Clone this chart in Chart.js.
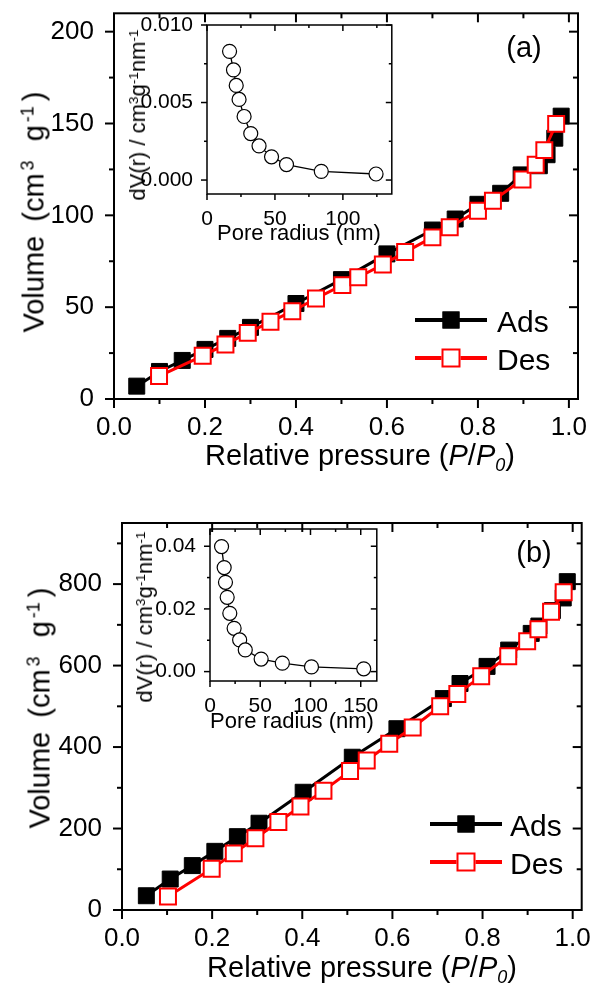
<!DOCTYPE html>
<html>
<head>
<meta charset="utf-8">
<script src="https://cdn.jsdelivr.net/npm/chart.js@4.4.1/dist/chart.umd.min.js"></script>
<style>
  html, body { margin: 0; padding: 0; background: #fff; }
  #page { position: relative; width: 595px; height: 991px; overflow: hidden;
          font-family: 'Liberation Sans', Arial, sans-serif; color: #000; }
  canvas { position: absolute; }
  .txt { position: absolute; white-space: nowrap; line-height: 1; }
  .ctr { transform: translate(-50%, -50%); }
  .rot { transform: translate(-50%, -50%) rotate(-90deg); }
  sup { font-size: 0.62em; position: relative; top: -0.55em; vertical-align: baseline; line-height: 0; }
  sub { font-size: 0.62em; position: relative; top: 0.35em; vertical-align: baseline; line-height: 0; }
  .vol sup { margin: 0 5px 0 3px; }
  .vol { word-spacing: 6px; }
  .legline { position: absolute; height: 4px; width: 72px; }
  .legmark { position: absolute; width: 15px; height: 15px; transform: translate(-50%, -50%); }
</style>
</head>
<body>
<div id="page">
  <canvas id="mainA" width="595" height="470" style="left:0;top:0"></canvas>
  <canvas id="insetA" width="300" height="230" style="left:100px;top:5px"></canvas>
  <canvas id="mainB" width="595" height="511" style="left:0;top:480px"></canvas>
  <canvas id="insetB" width="285" height="205" style="left:100px;top:509px"></canvas>

  <div class="txt rot vol" style="left:34px;top:212px;font-size:29px">Volume (cm<sup>3</sup> g<sup>-1</sup>)</div>
  <div class="txt ctr" style="left:360px;top:455px;font-size:29px">Relative pressure (<i>P</i>/<i>P</i><sub><i>0</i></sub>)</div>
  <div class="txt ctr" style="left:524px;top:47px;font-size:29px">(a)</div>
  <div class="txt rot" style="left:138px;top:115px;font-size:22px">dV(r) / cm<sup>3</sup>g<sup>-1</sup>nm<sup>-1</sup></div>
  <div class="txt ctr" style="left:299px;top:233px;font-size:22px">Pore radius (nm)</div>

  <div class="txt rot vol" style="left:40px;top:708px;font-size:29px">Volume (cm<sup>3</sup> g<sup>-1</sup>)</div>
  <div class="txt ctr" style="left:362px;top:967px;font-size:29px">Relative pressure (<i>P</i>/<i>P</i><sub><i>0</i></sub>)</div>
  <div class="txt ctr" style="left:534px;top:552px;font-size:29px">(b)</div>
  <div class="txt rot" style="left:145px;top:617px;font-size:22px">dV(r) / cm<sup>3</sup>g<sup>-1</sup>nm<sup>-1</sup></div>
  <div class="txt ctr" style="left:292px;top:721px;font-size:22px">Pore radius (nm)</div>

  <!-- legend (a) -->
  <div class="legline" style="left:415px;top:318px;background:#000"></div>
  <div class="legmark" style="left:451px;top:320px;background:#000;border:1px solid #000"></div>
  <div class="txt" style="left:497px;top:307px;font-size:30px">Ads</div>
  <div class="legline" style="left:415px;top:356px;background:#f00"></div>
  <div class="legmark" style="left:451px;top:358px;background:#fff;border:2px solid #f00"></div>
  <div class="txt" style="left:497px;top:345px;font-size:30px">Des</div>

  <!-- legend (b) -->
  <div class="legline" style="left:430px;top:822px;background:#000"></div>
  <div class="legmark" style="left:466px;top:824px;background:#000;border:1px solid #000"></div>
  <div class="txt" style="left:510px;top:811px;font-size:30px">Ads</div>
  <div class="legline" style="left:430px;top:860px;background:#f00"></div>
  <div class="legmark" style="left:466px;top:862px;background:#fff;border:2px solid #f00"></div>
  <div class="txt" style="left:510px;top:849px;font-size:30px">Des</div>
</div>

<script>
// ---- panel (a) isotherm ----
const adsA_P = [0.05, 0.10, 0.15, 0.20, 0.25, 0.30, 0.40, 0.50, 0.60, 0.70, 0.75, 0.80, 0.85, 0.895, 0.935, 0.952, 0.969, 0.983];
const adsA_V = [7, 15, 21, 27, 33, 39, 52, 65, 79, 92, 98, 106, 112, 122, 127, 133, 142, 154];
const desA_P = [0.099, 0.195, 0.245, 0.294, 0.344, 0.392, 0.444, 0.502, 0.537, 0.591, 0.64, 0.70, 0.738, 0.80, 0.833, 0.898, 0.927, 0.946, 0.972];
const desA_V = [12.5, 23.5, 29.7, 36, 42, 47.8, 54.7, 62, 66.3, 73.2, 80, 88, 93.5, 102.5, 108, 119.5, 127.5, 135.5, 149.8];

// ---- panel (a) inset: pore size distribution ----
const poreA_r = [16.6, 19.5, 21.5, 23.6, 27.3, 32.2, 38.3, 47.5, 58.5, 84.1, 124.4];
const poreA_dV = [0.0083, 0.0071, 0.0061, 0.0052, 0.0041, 0.0030, 0.0022, 0.0015, 0.0010, 0.00056, 0.00039];

// ---- panel (b) isotherm ----
const adsB_P = [0.054, 0.107, 0.156, 0.206, 0.256, 0.304, 0.402, 0.511, 0.61, 0.713, 0.75, 0.81, 0.858, 0.908, 0.925, 0.955, 0.979, 0.988];
const adsB_V = [35, 76, 109, 144, 180, 213, 289, 375, 445, 519, 556, 598, 638, 679, 697, 735, 766, 806];
const desB_P = [0.102, 0.199, 0.248, 0.296, 0.347, 0.396, 0.447, 0.506, 0.543, 0.593, 0.645, 0.706, 0.744, 0.797, 0.857, 0.899, 0.924, 0.952, 0.98];
const desB_V = [33, 101, 139, 176, 216, 254, 293, 341, 367, 408, 448, 500, 530, 574, 623, 660, 689, 732, 780];

// ---- panel (b) inset ----
const poreB_r = [11.5, 14.1, 15.4, 17.1, 19.7, 24, 29.5, 35.1, 50.9, 72, 101, 153];
const poreB_dV = [0.0399, 0.0332, 0.0285, 0.0237, 0.0186, 0.0138, 0.0101, 0.0069, 0.0040, 0.0027, 0.0015, 0.0009];

Chart.defaults.font.family = "'Liberation Sans', Arial, sans-serif";
Chart.defaults.color = '#000';
Chart.defaults.animation = false;

const toXY = (xs, ys) => xs.map((x, i) => ({ x, y: ys[i] }));

// box frame with major/minor ticks (outside on bottom/left, inside on top/right)
const frameTicks = {
  id: 'frameTicks',
  afterDraw(chart, args, opts) {
    const { ctx, chartArea: a, scales } = chart;
    ctx.save();
    ctx.strokeStyle = '#000';
    ctx.lineWidth = opts.width;
    ctx.strokeRect(a.left, a.top, a.right - a.left, a.bottom - a.top);
    const seg = (x1, y1, x2, y2) => { ctx.beginPath(); ctx.moveTo(x1, y1); ctx.lineTo(x2, y2); ctx.stroke(); };
    const marks = (scale, step) => {
      const out = scale.ticks.map(t => ({ v: t.value, len: opts.major }));
      for (let k = Math.ceil(scale.min / step - 1e-9); k * step <= scale.max + 1e-9; k++) {
        const v = k * step;
        if (!scale.ticks.some(t => Math.abs(t.value - v) < step / 10)) out.push({ v, len: opts.minor });
      }
      return out;
    };
    marks(scales.x, opts.xMinor).forEach(m => {
      const px = scales.x.getPixelForValue(m.v);
      seg(px, a.bottom, px, a.bottom + m.len);
      seg(px, a.top, px, a.top + m.len);
    });
    marks(scales.y, opts.yMinor).forEach(m => {
      const py = scales.y.getPixelForValue(m.v);
      seg(a.left, py, a.left - m.len, py);
      seg(a.right, py, a.right - m.len, py);
    });
    ctx.restore();
  }
};

function axis(min, max, step, digits, size, pad, fit, horizontal) {
  return {
    type: 'linear', min, max,
    grid: { display: false },
    border: { display: false },
    ticks: {
      stepSize: step, includeBounds: false, autoSkip: false, maxRotation: 0,
      padding: pad, font: { size }, color: '#000',
      callback: v => v.toFixed(digits)
    },
    afterFit(s) {
      if (horizontal) s.height = fit; else s.width = fit;
      s.paddingLeft = s.paddingRight = s.paddingTop = s.paddingBottom = 0;
    }
  };
}

function isotherm(id, ads, des, yMax, yStep, yMinor, box) {
  return new Chart(document.getElementById(id), {
    type: 'scatter',
    data: {
      datasets: [
        { label: 'Ads', data: ads, showLine: true, order: 1, clip: false,
          borderColor: '#000', borderWidth: 3,
          pointStyle: 'rect', pointRadius: 11.3, pointBorderWidth: 1,
          pointBackgroundColor: '#000', pointBorderColor: '#000' },
        { label: 'Des', data: des, showLine: true, order: 0, clip: false,
          borderColor: '#ff0000', borderWidth: 3,
          pointStyle: 'rect', pointRadius: 11.3, pointBorderWidth: 2,
          pointBackgroundColor: '#fff', pointBorderColor: '#ff0000' }
      ]
    },
    options: {
      responsive: false, events: [],
      layout: { padding: { left: 0, top: box.top, right: box.right, bottom: 0 } },
      scales: {
        x: axis(0, 1.02, 0.2, 1, 26, 5, box.xh, true),
        y: axis(0, yMax, yStep, 0, 26, 12, box.yw, false)
      },
      plugins: {
        legend: { display: false }, tooltip: { enabled: false },
        frameTicks: { width: 2, major: 9, minor: 5, xMinor: 0.1, yMinor }
      }
    },
    plugins: [frameTicks]
  });
}

function inset(id, pts, xMax, yMin, yMax, yStep, yMinor, digits, box) {
  return new Chart(document.getElementById(id), {
    type: 'scatter',
    data: {
      datasets: [{
        data: pts, showLine: true, clip: false,
        borderColor: '#000', borderWidth: 1.3,
        pointStyle: 'circle', pointRadius: 7, pointBorderWidth: 1.2,
        pointBackgroundColor: '#fff', pointBorderColor: '#000'
      }]
    },
    options: {
      responsive: false, events: [],
      layout: { padding: { left: 0, top: box.top, right: box.right, bottom: 0 } },
      scales: {
        x: axis(0, xMax, 50, 0, 21, 5, box.xh, true),
        y: axis(yMin, yMax, yStep, digits, 21, 6, box.yw, false)
      },
      plugins: {
        legend: { display: false }, tooltip: { enabled: false },
        frameTicks: { width: 1.5, major: 6, minor: 3, xMinor: 25, yMinor }
      }
    },
    plugins: [frameTicks]
  });
}

isotherm('mainA', toXY(adsA_P, adsA_V), toXY(desA_P, desA_V), 210, 50, 25,
  { top: 12, right: 17, xh: 71, yw: 114 });
isotherm('mainB', toXY(adsB_P, adsB_V), toXY(desB_P, desB_V), 950, 200, 100,
  { top: 43, right: 11, xh: 81, yw: 122 });
inset('insetA', toXY(poreA_r, poreA_dV), 136, -0.0009, 0.010, 0.005, 0.0025, 3,
  { top: 20, right: 7, xh: 41, yw: 107 });
inset('insetB', toXY(poreB_r, poreB_dV), 166, -0.003, 0.0455, 0.02, 0.01, 2,
  { top: 20, right: 7, xh: 33, yw: 110 });
</script>
</body>
</html>
